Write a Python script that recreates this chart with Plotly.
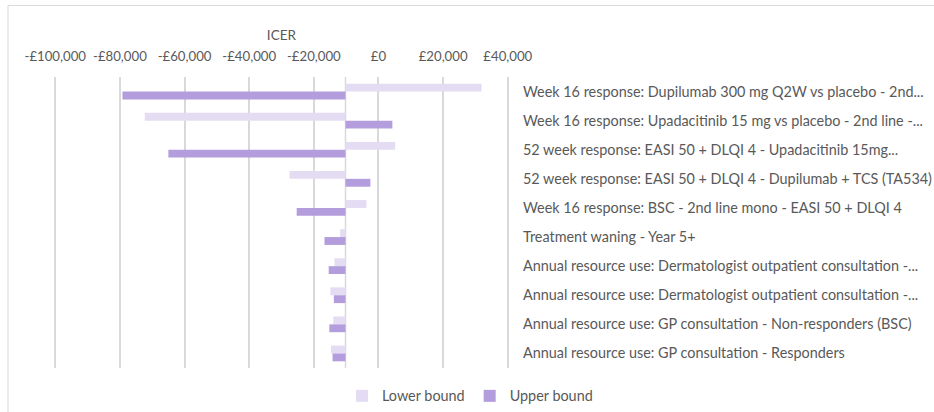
import plotly.graph_objects as go

categories = [
    "Week 16 response: Dupilumab 300 mg Q2W vs placebo - 2nd...",
    "Week 16 response: Upadacitinib 15 mg vs placebo - 2nd line -...",
    "52 week response: EASI 50 + DLQI 4 - Upadacitinib 15mg...",
    "52 week response: EASI 50 + DLQI 4 - Dupilumab + TCS (TA534)",
    "Week 16 response: BSC - 2nd line mono - EASI 50 + DLQI 4",
    "Treatment waning - Year 5+",
    "Annual resource use: Dermatologist outpatient consultation -...",
    "Annual resource use: Dermatologist outpatient consultation -...",
    "Annual resource use: GP consultation - Non-responders (BSC)",
    "Annual resource use: GP consultation - Responders",
]
# make duplicate labels unique internally while displaying same text
cat_ids = [f"c{i}" for i in range(len(categories))]

base_icer = -10200
lower_bound = [31900, -72300, 5150, -27500, -3700, -11850, -13600, -14900, -14000, -14700]
upper_bound = [-79200, 4300, -65000, -2500, -25300, -16700, -15400, -13800, -15200, -14200]

tick_values = [-100000, -80000, -60000, -40000, -20000, 0, 20000, 40000]
tick_labels = ["-£100,000", "-£80,000", "-£60,000", "-£40,000", "-£20,000", "£0", "£20,000", "£40,000"]

W, H = 934, 412
ml, mr, mt, mb = 52, 423, 77, 44
pw, ph = W - ml - mr, H - mt - mb

font_family = "Lato, 'Open Sans', sans-serif"
text_col = "#595959"
grid_col = "#D9D9D9"

fig = go.Figure()
fig.add_trace(go.Bar(
    name="Lower bound", y=cat_ids, x=[v - base_icer for v in lower_bound],
    base=base_icer, orientation="h", marker=dict(color="#E4DCF3", line=dict(width=0)),
))
fig.add_trace(go.Bar(
    name="Upper bound", y=cat_ids, x=[v - base_icer for v in upper_bound],
    base=base_icer, orientation="h", marker=dict(color="#B39DDC", line=dict(width=0)),
))

def px_x(p):
    return (p - ml) / pw

def px_y(p):
    return (H - mb - p) / ph

fig.update_layout(
    width=W, height=H,
    margin=dict(l=ml, r=mr, t=mt, b=mb, autoexpand=False),
    paper_bgcolor="white", plot_bgcolor="white",
    barmode="group", bargap=0.46, bargroupgap=0,
    font=dict(family=font_family, size=14, color=text_col),
    showlegend=True,
    legend=dict(orientation="h", x=px_x(470), xanchor="center", y=px_y(396), yanchor="middle",
                font=dict(size=14.4, color=text_col), traceorder="normal", itemwidth=30),
    xaxis=dict(
        side="top", range=[-101000, 41000], tickvals=tick_values, ticktext=tick_labels,
        showgrid=True, gridcolor=grid_col, gridwidth=1.5, zeroline=False, automargin=False,
        showline=False, ticks="", tickfont=dict(size=13.2, color=text_col),
        ticklabelstandoff=12,
        title=dict(text="ICER", font=dict(size=13.6, color=text_col), standoff=4),
    ),
    yaxis=dict(
        side="right", autorange="reversed", tickvals=cat_ids, ticktext=categories,
        showgrid=False, zeroline=False, showline=False, ticks="", automargin=False,
        ticklabelstandoff=11, tickfont=dict(size=14.4, color=text_col),
    ),
    shapes=[
        dict(type="line", xref="x", yref="paper", x0=base_icer, x1=base_icer, y0=0, y1=1,
             line=dict(color=grid_col, width=1.5), layer="below"),
        dict(type="rect", xref="paper", yref="paper",
             x0=px_x(8), x1=px_x(W + 5), y0=px_y(5.5), y1=px_y(H + 5),
             line=dict(color="#D9D9D9", width=1), layer="below"),
    ],
)

fig.write_html(
    "out.html",
    config={"displayModeBar": False},
    post_script="document.body.style.margin='0';document.body.style.overflow='hidden';",
)
